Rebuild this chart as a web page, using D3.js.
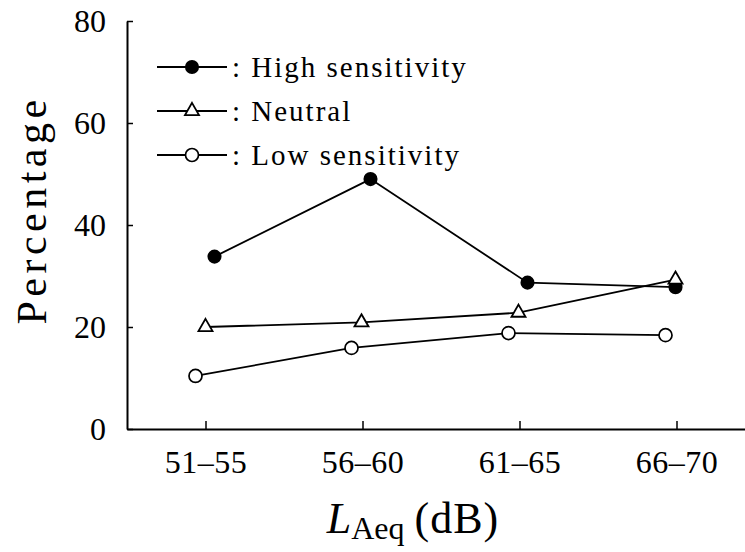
<!DOCTYPE html>
<html>
<head>
<meta charset="utf-8">
<script src="https://cdn.jsdelivr.net/npm/d3@7"></script>
<style>
  body { margin: 0; background: #fff; }
  text { font-family: "Liberation Serif", "Times New Roman", serif; fill: #000; }
</style>
</head>
<body>
<div id="chart"></div>
<script>
var categories = ['51\u201355', '56\u201360', '61\u201365', '66\u201370'];
var highValues = [33.8, 49.0, 28.7, 27.8];
var neutralValues = [20.0, 20.9, 22.8, 29.3];
var lowValues = [10.4, 15.9, 18.8, 18.4];
var yTicks = [0, 20, 40, 60, 80];

var width = 745;
var height = 552;
var plotLeft = 127, plotTop = 21, plotBottom = 429;

var svg = d3.select('#chart').append('svg')
      .attr('width', width)
      .attr('height', height)

var xScale = d3.scalePoint()
      .domain(categories)
      .range([plotLeft, 755])
      .padding(0.5)

var yScale = d3.scaleLinear()
      .domain([0, 80])
      .range([plotBottom, plotTop])

// the three series are dodged a little so markers do not sit on top of each other
var series = [
  { name: 'High sensitivity', values: highValues, marker: 'dot', dodge: [9, 8, 8, -1] },
  { name: 'Neutral', values: neutralValues, marker: 'tri', dodge: [0, -1, -1, -1] },
  { name: 'Low sensitivity', values: lowValues, marker: 'ring', dodge: [-10, -11, -11, -11] }
];

// axes
var yAxis = d3.axisLeft(yScale)
      .tickValues(yTicks)
      .tickSizeInner(-6)
      .tickSizeOuter(0)
      .tickPadding(21)
      .tickFormat(d3.format('d'))

var xAxis = d3.axisBottom(xScale)
      .tickSizeInner(-8)
      .tickSizeOuter(0)
      .tickPadding(21)

var gy = svg.append('g')
      .attr('transform', 'translate(' + plotLeft + ',0)')
      .call(yAxis)
gy.select('.domain').attr('stroke-width', 2)
gy.selectAll('.tick line').attr('stroke-width', 1.5)
gy.selectAll('.tick text')
      .style('font-size', '32px')

var gx = svg.append('g')
      .attr('transform', 'translate(0,' + plotBottom + ')')
      .call(xAxis)
gx.select('.domain').attr('stroke-width', 2)
gx.selectAll('.tick line').attr('stroke-width', 1.5)
gx.selectAll('.tick text')
      .style('font-size', '32px')
      .style('letter-spacing', '0.5px')

// axis titles
svg.append('text')
      .attr('transform', 'rotate(-90)')
      .attr('x', -210)
      .attr('y', 46)
      .style('text-anchor', 'middle')
      .style('font-size', '42px')
      .style('letter-spacing', '4.5px')
      .text('Percentage')

var xt = svg.append('text')
      .attr('x', 413)
      .attr('y', 533)
      .style('text-anchor', 'middle')
      .style('font-size', '44px')
xt.append('tspan').style('font-style', 'italic').text('L')
xt.append('tspan').attr('dy', 6).style('font-size', '32px').text('Aeq')
xt.append('tspan').attr('dy', -6).attr('dx', 10).style('letter-spacing', '1px').text('(dB)')

function drawMarker (g, type, x, y) {
  if (type === 'tri') {
    g.append('path')
          .attr('d', d3.symbol().type(d3.symbolTriangle).size(85)())
          .attr('transform', 'translate(' + x + ',' + y + ')')
          .attr('fill', '#fff')
          .attr('stroke', '#000')
          .attr('stroke-width', 1.8)
  } else {
    g.append('circle')
          .attr('cx', x)
          .attr('cy', y)
          .attr('r', type === 'dot' ? 6.2 : 6.5)
          .attr('fill', type === 'dot' ? '#000' : '#fff')
          .attr('stroke', '#000')
          .attr('stroke-width', 1.7)
  }
}

var line = d3.line()
      .x(d => d.x)
      .y(d => d.y)

series.forEach(function (s) {
  var pts = s.values.map((v, i) => ({ x: xScale(categories[i]) + s.dodge[i], y: yScale(v) }))
  var g = svg.append('g')
  g.append('path')
        .attr('d', line(pts))
        .attr('fill', 'none')
        .attr('stroke', '#000')
        .attr('stroke-width', 1.8)
  pts.forEach(p => drawMarker(g, s.marker, p.x, p.y))
})

// legend
var legendRows = [67, 111, 155];
series.forEach(function (s, i) {
  var g = svg.append('g')
  var y = legendRows[i]
  g.append('line')
        .attr('x1', 157).attr('x2', 227)
        .attr('y1', y).attr('y2', y)
        .attr('stroke', '#000')
        .attr('stroke-width', 1.8)
  drawMarker(g, s.marker, 192, y)
  g.append('text')
        .attr('x', 232)
        .attr('y', y + 10)
        .style('font-size', '29px')
        .style('letter-spacing', '2px')
        .text(': ' + s.name)
})
</script>
</body>
</html>
